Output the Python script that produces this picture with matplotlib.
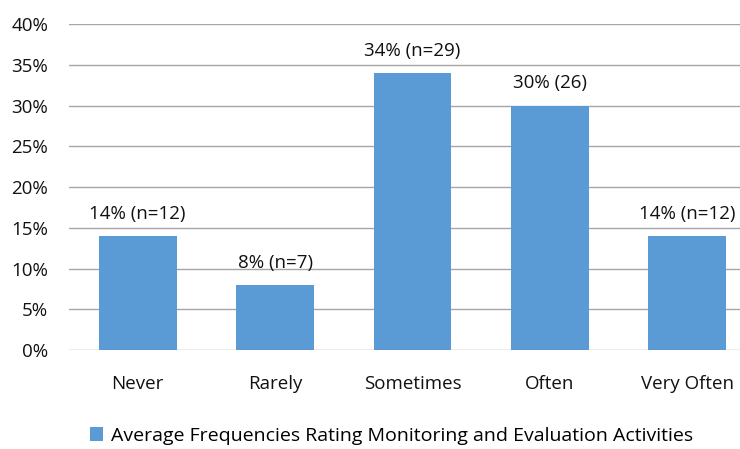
import matplotlib.pyplot as plt
from matplotlib.ticker import FuncFormatter

categories = ["Never", "Rarely", "Sometimes", "Often", "Very Often"]
values = [14, 8, 34, 30, 14]
labels = ["14% (n=12)", "8% (n=7)", "34% (n=29)", "30% (26)", "14% (n=12)"]
series_name = "Average Frequencies Rating Monitoring and Evaluation Activities"

plt.rcParams['font.family'] = ['Open Sans', 'DejaVu Sans']

fig = plt.figure(figsize=(7.4, 4.49), dpi=100)
ax = fig.add_axes([69 / 740, 0.2205, 687 / 740, 0.726])

x = range(len(categories))
ax.bar(x, values, width=0.567, color='#5B9BD5', zorder=3, label=series_name)
for xi, v, lab in zip(x, values, labels):
    ax.text(xi, v + 1.6, lab, ha='center', va='bottom', fontsize=13.5, color='#111111')

ax.set_xlim(-0.5, len(categories) - 0.5)
ax.set_ylim(0, 40)
ax.set_yticks(range(0, 41, 5))
ax.yaxis.set_major_formatter(FuncFormatter(lambda v, p: f"{int(v)}%"))
ax.set_xticks(list(x))
ax.set_xticklabels(categories)
ax.tick_params(axis='both', length=0, labelsize=13.5, colors='#111111')
ax.tick_params(axis='x', pad=18)
ax.tick_params(axis='y', pad=15)
ax.grid(axis='y', color='#a6a6a6', linewidth=1, zorder=0)
for s in ax.spines.values():
    s.set_visible(False)

fig.legend(loc='center left', bbox_to_anchor=(72 / 740, 1 - 436 / 449), frameon=False,
           fontsize=14, handlelength=0.7, handleheight=0.7, handletextpad=0.4)

fig.savefig("out.png", dpi=100)
